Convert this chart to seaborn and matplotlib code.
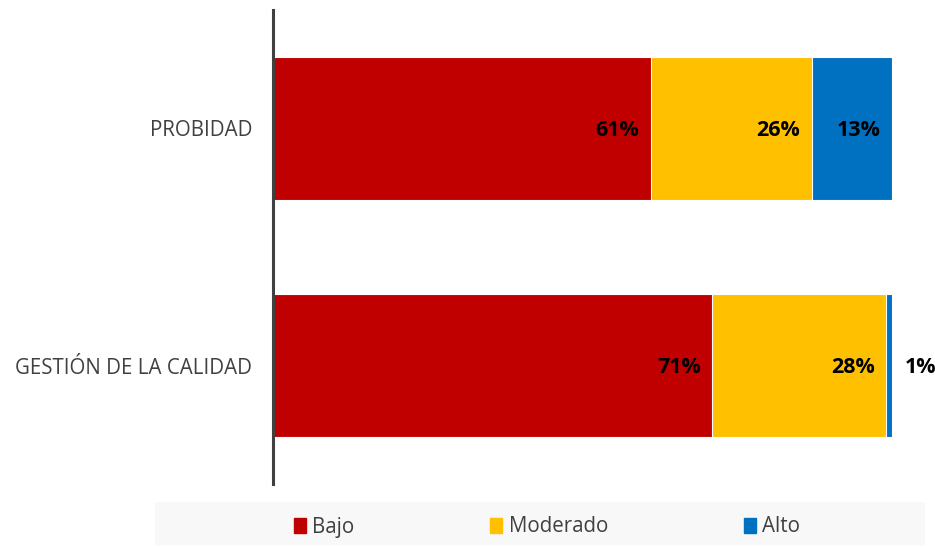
import numpy as np
import pandas as pd
import matplotlib.pyplot as plt
import matplotlib.patches as mpatches
import seaborn as sns

# Data
categorias = ['PROBIDAD', 'GESTIÓN DE LA CALIDAD']
bajo = [61, 71]
moderado = [26, 28]
alto = [13, 1]
series = ['Bajo', 'Moderado', 'Alto']
colores = ['#C00000', '#FFC000', '#0070C0']

sns.set_style('white')
plt.rcParams['font.family'] = ['Open Sans', 'DejaVu Sans']

df = pd.DataFrame({'cat': categorias, 'Bajo': bajo, 'Moderado': moderado, 'Alto': alto})
df['c1'] = df['Bajo']
df['c2'] = df['Bajo'] + df['Moderado']
df['c3'] = df['c2'] + df['Alto']

fig = plt.figure(figsize=(9.35, 5.47), dpi=100)
ax = fig.add_axes([0.292, 0.115, 0.662, 0.867])

# stacked bars drawn back to front (cumulative)
for col, c in zip(['c3', 'c2', 'c1'], colores[::-1]):
    sns.barplot(data=df, x=col, y='cat', orient='h', color=c, width=0.6,
                edgecolor='white', linewidth=0.8, saturation=1, ax=ax)

# value labels at inside end of each segment
for i in range(len(df)):
    ends = [df['c1'][i], df['c2'][i], df['c3'][i]]
    vals = [bajo[i], moderado[i], alto[i]]
    for e, v in zip(ends, vals):
        if v >= 5:
            ax.text(e - 1.8, i + 0.01, f'{v}%', ha='right', va='center',
                    fontsize=15.5, fontweight='bold', color='black')
        else:
            ax.text(e + 2.1, i + 0.01, f'{v}%', ha='left', va='center',
                    fontsize=15.5, fontweight='bold', color='black', clip_on=False)

ax.set_xlim(0, 100)
ax.set_ylim(1.5, -0.5)
ax.set_xlabel('')
ax.set_ylabel('')
ax.set_xticks([])
ax.tick_params(axis='y', length=0, pad=15, labelsize=14.8, labelcolor='#404040')
for s in ['top', 'right', 'bottom']:
    ax.spines[s].set_visible(False)
ax.spines['left'].set_color('#404040')
ax.spines['left'].set_linewidth(2.2)

# legend with grey band
fig.patches.append(mpatches.Rectangle((155 / 935, 2 / 547), 770 / 935, 43 / 547,
                                      transform=fig.transFigure, facecolor='#F8F8F8',
                                      edgecolor='none', zorder=0))
handles = [mpatches.Patch(facecolor=c, edgecolor=c, alpha=1) for c in colores]
fig.legend(handles, series, loc='center', bbox_to_anchor=(0.585, 1 - 527 / 547),
           ncol=3, frameon=False, fontsize=14.8, handlelength=0.6, handleheight=0.7,
           handletextpad=0.3, columnspacing=6.6, labelcolor='#404040')

fig.savefig('out.png', dpi=100)
